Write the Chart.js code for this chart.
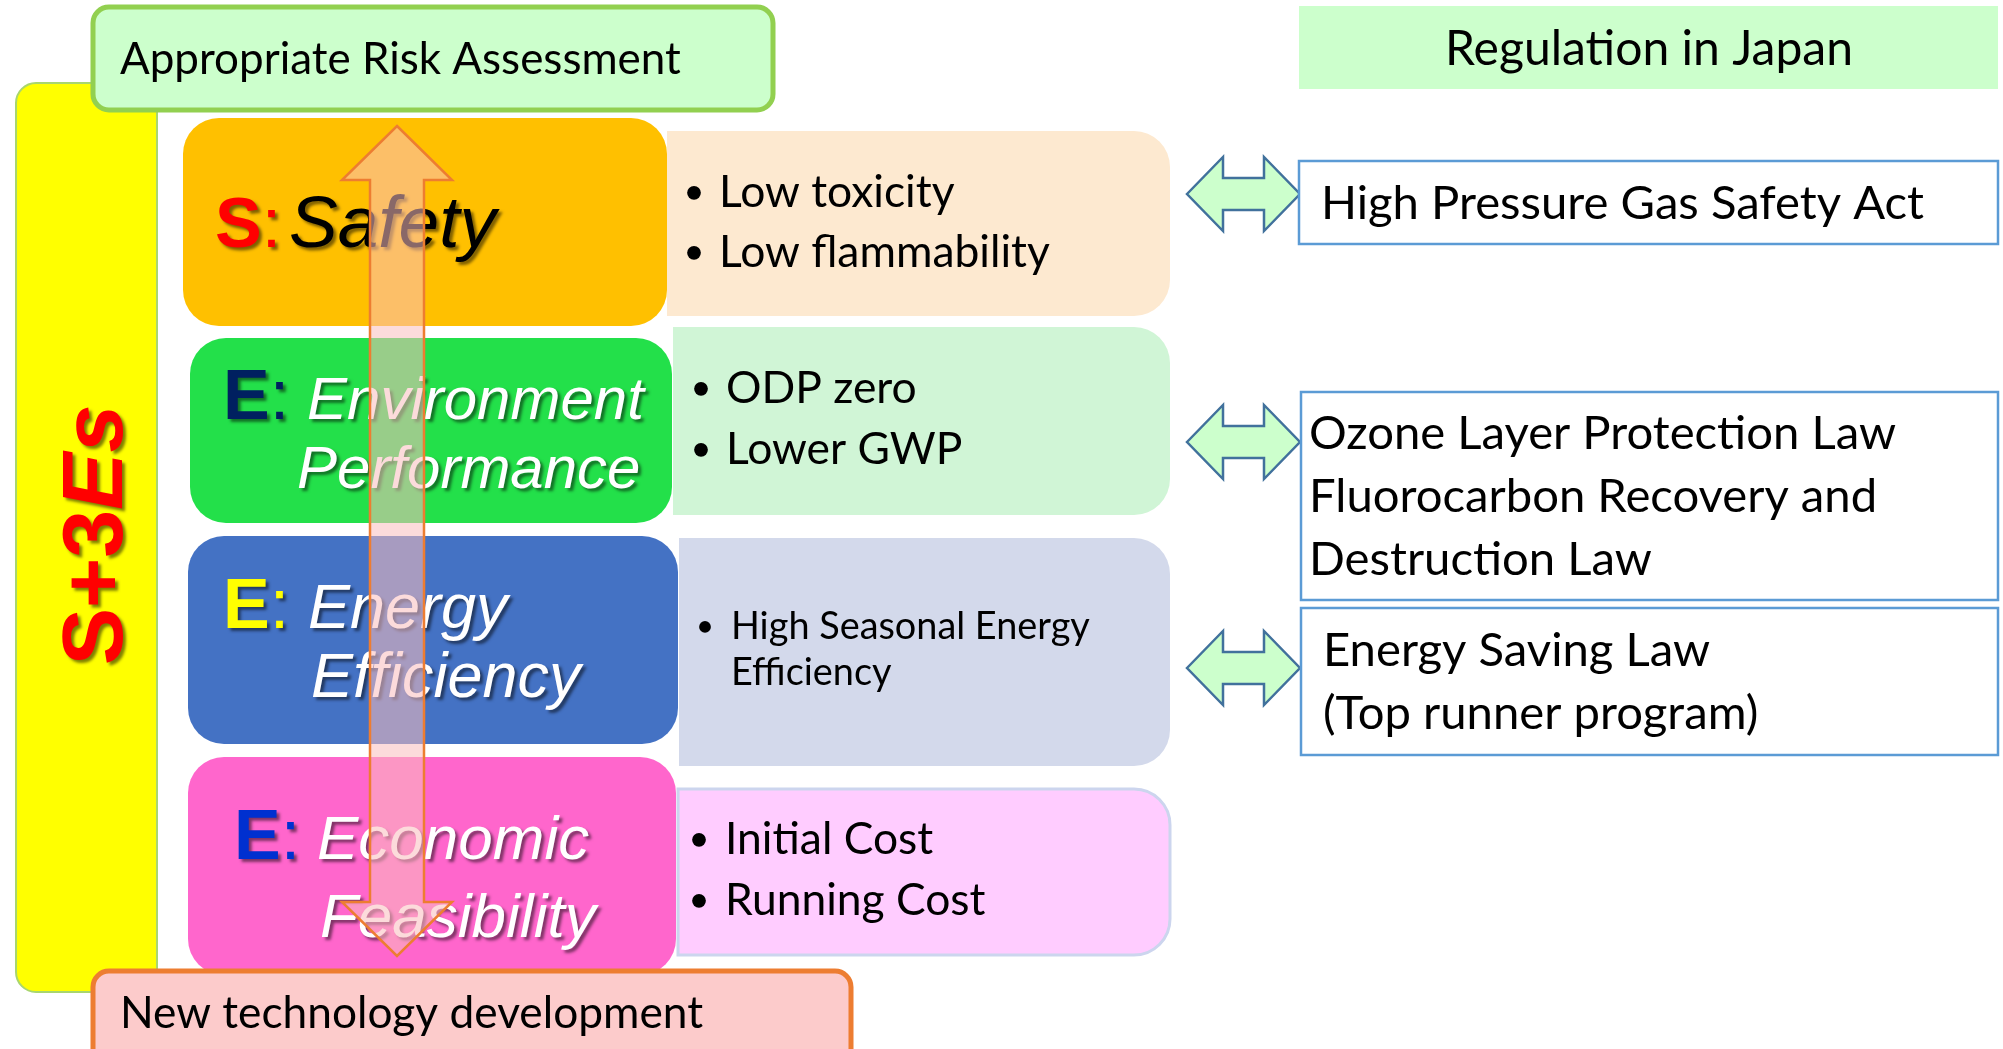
<!DOCTYPE html>
<html>
<head>
<meta charset="utf-8">
<script src="https://cdn.jsdelivr.net/npm/chart.js@4.4.1/dist/chart.umd.min.js"></script>
<style>
  html, body { margin: 0; padding: 0; background: #fff; }
  #wrap { width: 2003px; height: 1049px; }
</style>
</head>
<body>
<div id="wrap"><canvas id="chart" width="2003" height="1049"></canvas></div>
<script>
// content
const pillarKeys = ['S', 'E', 'E', 'E'];
const pillarNames = [['Safety'], ['Environment', 'Performance'], ['Energy', 'Efficiency'], ['Economic', 'Feasibility']];
const pillarPoints = [
  [['Low toxicity'], ['Low flammability']],
  [['ODP zero'], ['Lower GWP']],
  [['High Seasonal Energy', 'Efficiency']],
  [['Initial Cost'], ['Running Cost']]
];
const regulationTitle = 'Regulation in Japan';
const regulations = [
  ['High Pressure Gas Safety Act'],
  ['Ozone Layer Protection Law', 'Fluorocarbon Recovery and', 'Destruction Law'],
  ['Energy Saving Law', '(Top runner program)']
];
const topLabel = 'Appropriate Risk Assessment';
const bottomLabel = 'New technology development';
const sideLabel = ['S+3', 'Es'];

// layout (diagram units = px of the 2003x1049 picture)
const W = 2003, H = 1049;
const SANS = "'Liberation Sans', Arial, sans-serif";
const CAL = "Lato, 'Open Sans', sans-serif";
const layout = {
  side: { x: 16, y: 83, w: 141, h: 909, r: 20, fill: '#FFFF00', stroke: '#A9D66E', textX: 122, textY: 535, size: 86 },
  top: { x: 93, y: 7, w: 680, h: 103, r: 16, fill: '#CCFFCC', stroke: '#92D050', textX: 120, base: 74, fit: 561 },
  bottom: { x: 93, y: 971, w: 758, h: 100, r: 16, fill: '#FCCBCB', stroke: '#ED7D31', textX: 120, base: 1028, fit: 583 },
  pillars: [
    { x: 183, y: 118, w: 484, h: 208, fill: '#FFC000', keyColor: '#FF0000', nameColor: '#000000', keyX: 215, nameSize: 73, lines: [[289, 247]] },
    { x: 190, y: 338, w: 482, h: 185, fill: '#23E04A', keyColor: '#002060', nameColor: '#FFFFFF', keyX: 223, nameSize: 60, lines: [[307, 419], [297, 488]] },
    { x: 188, y: 536, w: 490, h: 208, fill: '#4472C4', keyColor: '#FFFF00', nameColor: '#FFFFFF', keyX: 223, nameSize: 63, lines: [[308, 628], [311, 697]] },
    { x: 188, y: 757, w: 488, h: 218, fill: '#FF66CC', keyColor: '#0030D0', nameColor: '#FFFFFF', keyX: 234, nameSize: 62, lines: [[317, 859], [320, 937]] }
  ],
  pillarR: 36,
  keySize: 70,
  notes: [
    { x: 667, y: 131, w: 503, h: 185, fill: '#FDE9D0', bulletX: 694, textX: 719, bases: [207, 267], ref: 'Low flammability', fit: 331 },
    { x: 673, y: 327, w: 497, h: 188, fill: '#D0F5D6', bulletX: 701, textX: 726, bases: [403, 464], ref: 'Low flammability', fit: 331 },
    { x: 679, y: 538, w: 491, h: 228, fill: '#D3D9EB', bulletX: 705, textX: 731, bases: [639, 685], ref: 'High Seasonal Energy', fit: 359 },
    { x: 678, y: 789, w: 492, h: 166, fill: '#FFCCFF', stroke: '#CCD5EE', bulletX: 699, textX: 725, bases: [854, 915], ref: 'Low flammability', fit: 331 }
  ],
  noteR: 36,
  vArrow: { x: 397, top: 126, bottom: 956, headH: 54, headHalf: 55, shaftHalf: 27, fill: 'rgba(250,190,190,0.55)', stroke: '#ED7D31' },
  links: { x0: 1187, x1: 1300, ys: [194, 442, 668], head: 36, halfH: 37, shaftHalf: 16, fill: '#CCFFCC', stroke: '#41719C' },
  regHead: { x: 1299, y: 6, w: 699, h: 83, fill: '#CCFFCC', textX: 1649, base: 65, fit: 408 },
  regBoxes: [
    { x: 1299, y: 161, w: 699, h: 83, textX: 1321, bases: [219] },
    { x: 1301, y: 392, w: 697, h: 208, textX: 1309, bases: [449, 512, 575] },
    { x: 1301, y: 608, w: 697, h: 147, textX: 1323, bases: [666, 729] }
  ],
  regFit: 603
};

function roundPath(ctx, x, y, w, h, r) {
  const [tl, tr, br, bl] = Array.isArray(r) ? r : [r, r, r, r];
  ctx.beginPath();
  ctx.moveTo(x + tl, y);
  ctx.lineTo(x + w - tr, y);
  ctx.arcTo(x + w, y, x + w, y + tr, tr);
  ctx.lineTo(x + w, y + h - br);
  ctx.arcTo(x + w, y + h, x + w - br, y + h, br);
  ctx.lineTo(x + bl, y + h);
  ctx.arcTo(x, y + h, x, y + h - bl, bl);
  ctx.lineTo(x, y + tl);
  ctx.arcTo(x, y, x + tl, y, tl);
  ctx.closePath();
}

function fitFont(ctx, text, target, weight) {
  ctx.font = `${weight} 100px ${CAL}`;
  const size = 100 * target / ctx.measureText(text).width;
  return `${weight} ${size.toFixed(2)}px ${CAL}`;
}

const diagramPlugin = {
  id: 'diagram',
  afterDraw(chart) {
    const ctx = chart.ctx;
    const sx = chart.scales.x, sy = chart.scales.y;
    const X = v => sx.getPixelForValue(v);
    const Y = v => sy.getPixelForValue(v);
    const box = (b, r) => roundPath(ctx, X(b.x), Y(b.y), X(b.x + b.w) - X(b.x), Y(b.y + b.h) - Y(b.y), r);
    const shadowOn = () => {
      ctx.shadowColor = 'rgba(0,0,0,0.5)';
      ctx.shadowOffsetX = 3; ctx.shadowOffsetY = 3; ctx.shadowBlur = 3;
    };
    const shadowOff = () => {
      ctx.shadowColor = 'transparent';
      ctx.shadowOffsetX = 0; ctx.shadowOffsetY = 0; ctx.shadowBlur = 0;
    };
    ctx.save();
    ctx.textBaseline = 'alphabetic';

    // yellow side bar
    const s = layout.side;
    box(s, s.r);
    ctx.fillStyle = s.fill; ctx.fill();
    ctx.lineWidth = 2; ctx.strokeStyle = s.stroke; ctx.stroke();

    // note boxes behind pillars
    layout.notes.forEach(n => {
      box(n, [0, layout.noteR, layout.noteR, 0]);
      ctx.fillStyle = n.fill; ctx.fill();
      if (n.stroke) { ctx.lineWidth = 3; ctx.strokeStyle = n.stroke; ctx.stroke(); }
    });

    // pillars with titles
    layout.pillars.forEach((p, i) => {
      box(p, layout.pillarR);
      ctx.fillStyle = p.fill; ctx.fill();
      shadowOn();
      ctx.textAlign = 'left';
      ctx.fillStyle = p.keyColor;
      ctx.font = `bold ${layout.keySize}px ${SANS}`;
      const kx = X(p.keyX), ky = Y(p.lines[0][1]);
      ctx.fillText(pillarKeys[i], kx, ky);
      const kw = ctx.measureText(pillarKeys[i]).width;
      ctx.font = `${layout.keySize}px ${SANS}`;
      ctx.fillText(':', kx + kw, ky);
      ctx.fillStyle = p.nameColor;
      ctx.font = `italic ${p.nameSize}px ${SANS}`;
      pillarNames[i].forEach((t, j) => ctx.fillText(t, X(p.lines[j][0]), Y(p.lines[j][1])));
      shadowOff();
    });

    // bullet points
    layout.notes.forEach((n, i) => {
      ctx.font = fitFont(ctx, n.ref, n.fit, 'normal');
      const size = parseFloat(ctx.font.match(/([\d.]+)px/)[1]);
      ctx.fillStyle = '#000';
      ctx.textAlign = 'left';
      let k = 0;
      pillarPoints[i].forEach(point => {
        point.forEach((line, j) => {
          const base = Y(n.bases[k]);
          if (j === 0) {
            ctx.beginPath();
            ctx.arc(X(n.bulletX), base - size * 0.32, size * 0.155, 0, Math.PI * 2);
            ctx.fill();
          }
          ctx.fillText(line, X(n.textX), base);
          k++;
        });
      });
    });

    // vertical double arrow
    const a = layout.vArrow;
    ctx.beginPath();
    ctx.moveTo(X(a.x), Y(a.top));
    ctx.lineTo(X(a.x + a.headHalf), Y(a.top + a.headH));
    ctx.lineTo(X(a.x + a.shaftHalf), Y(a.top + a.headH));
    ctx.lineTo(X(a.x + a.shaftHalf), Y(a.bottom - a.headH));
    ctx.lineTo(X(a.x + a.headHalf), Y(a.bottom - a.headH));
    ctx.lineTo(X(a.x), Y(a.bottom));
    ctx.lineTo(X(a.x - a.headHalf), Y(a.bottom - a.headH));
    ctx.lineTo(X(a.x - a.shaftHalf), Y(a.bottom - a.headH));
    ctx.lineTo(X(a.x - a.shaftHalf), Y(a.top + a.headH));
    ctx.lineTo(X(a.x - a.headHalf), Y(a.top + a.headH));
    ctx.closePath();
    ctx.fillStyle = a.fill; ctx.fill();
    ctx.lineWidth = 2.5; ctx.strokeStyle = a.stroke; ctx.stroke();

    // top and bottom labels
    [[layout.top, topLabel], [layout.bottom, bottomLabel]].forEach(([b, t]) => {
      box(b, b.r);
      ctx.fillStyle = b.fill; ctx.fill();
      ctx.lineWidth = 5; ctx.strokeStyle = b.stroke; ctx.stroke();
      ctx.font = fitFont(ctx, t, b.fit, 'normal');
      ctx.fillStyle = '#000'; ctx.textAlign = 'left';
      ctx.fillText(t, X(b.textX), Y(b.base));
    });

    // rotated side label
    ctx.save();
    ctx.translate(X(s.textX), Y(s.textY));
    ctx.rotate(-Math.PI / 2);
    ctx.font = `bold ${s.size}px ${SANS}`;
    const w1 = ctx.measureText(sideLabel[0]).width;
    ctx.font = `italic bold ${s.size}px ${SANS}`;
    const w2 = ctx.measureText(sideLabel[1]).width;
    shadowOn();
    ctx.fillStyle = '#FF0000'; ctx.textAlign = 'left';
    ctx.font = `bold ${s.size}px ${SANS}`;
    ctx.fillText(sideLabel[0], -(w1 + w2) / 2, 0);
    ctx.font = `italic bold ${s.size}px ${SANS}`;
    ctx.fillText(sideLabel[1], -(w1 + w2) / 2 + w1, 0);
    shadowOff();
    ctx.restore();

    // horizontal double arrows
    const L = layout.links;
    L.ys.forEach(yc => {
      ctx.beginPath();
      ctx.moveTo(X(L.x0), Y(yc));
      ctx.lineTo(X(L.x0 + L.head), Y(yc - L.halfH));
      ctx.lineTo(X(L.x0 + L.head), Y(yc - L.shaftHalf));
      ctx.lineTo(X(L.x1 - L.head), Y(yc - L.shaftHalf));
      ctx.lineTo(X(L.x1 - L.head), Y(yc - L.halfH));
      ctx.lineTo(X(L.x1), Y(yc));
      ctx.lineTo(X(L.x1 - L.head), Y(yc + L.halfH));
      ctx.lineTo(X(L.x1 - L.head), Y(yc + L.shaftHalf));
      ctx.lineTo(X(L.x0 + L.head), Y(yc + L.shaftHalf));
      ctx.lineTo(X(L.x0 + L.head), Y(yc + L.halfH));
      ctx.closePath();
      ctx.fillStyle = L.fill; ctx.fill();
      ctx.lineWidth = 2.5; ctx.strokeStyle = L.stroke; ctx.stroke();
    });

    // regulation column
    const rh = layout.regHead;
    box(rh, 0);
    ctx.fillStyle = rh.fill; ctx.fill();
    ctx.font = fitFont(ctx, regulationTitle, rh.fit, 'normal');
    ctx.fillStyle = '#000'; ctx.textAlign = 'center';
    ctx.fillText(regulationTitle, X(rh.textX), Y(rh.base));

    const regFont = fitFont(ctx, regulations[0][0], layout.regFit, 'normal');
    layout.regBoxes.forEach((b, i) => {
      box(b, 0);
      ctx.fillStyle = '#FFFFFF'; ctx.fill();
      ctx.lineWidth = 2.5; ctx.strokeStyle = '#5B9BD5'; ctx.stroke();
      ctx.font = regFont; ctx.fillStyle = '#000'; ctx.textAlign = 'left';
      regulations[i].forEach((t, j) => ctx.fillText(t, X(b.textX), Y(b.bases[j])));
    });

    ctx.restore();
  }
};

new Chart(document.getElementById('chart'), {
  type: 'scatter',
  data: { datasets: [{ data: [], pointRadius: 0 }] },
  options: {
    responsive: false,
    animation: false,
    devicePixelRatio: 1,
    events: [],
    layout: { padding: 0 },
    scales: {
      x: { type: 'linear', min: 0, max: W, display: false },
      y: { type: 'linear', min: 0, max: H, reverse: true, display: false }
    },
    plugins: { legend: { display: false }, tooltip: { enabled: false } }
  },
  plugins: [diagramPlugin]
});
</script>
</body>
</html>
